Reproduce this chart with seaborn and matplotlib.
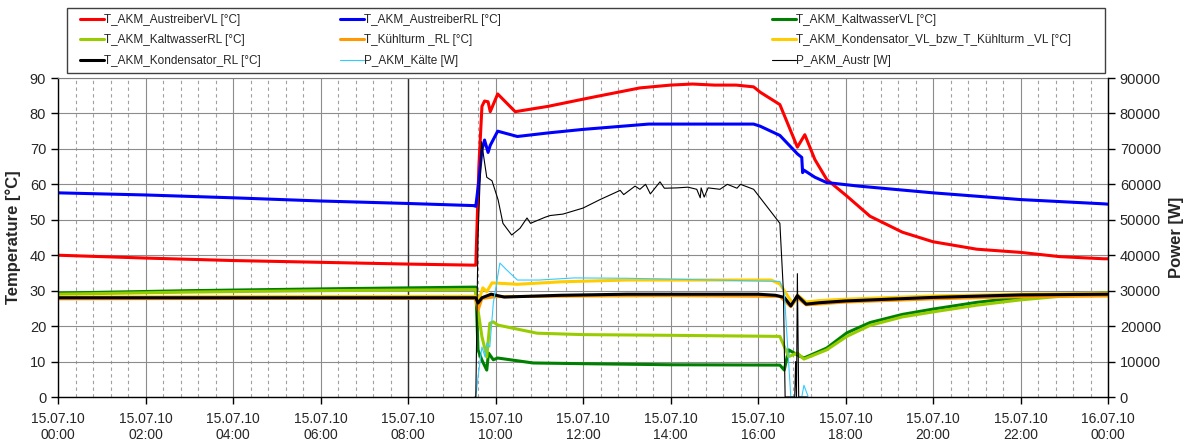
import numpy as np
import pandas as pd
import matplotlib
matplotlib.use("Agg")
import matplotlib.pyplot as plt
import seaborn as sns
from matplotlib.lines import Line2D
from matplotlib.patches import Rectangle
from matplotlib.ticker import MultipleLocator, FuncFormatter

# --- data (hours since 15.07.10 00:00) ---
t_vl = [0, 2, 4, 6, 8, 9.5, 9.55, 9.62, 9.69, 9.75, 9.83, 9.88, 10.05, 10.45, 11.2, 12.15,
        13.3, 14, 14.5, 15, 15.5, 15.9, 16.05, 16.5, 16.9, 17.07, 17.3, 17.57, 18.03, 18.56,
        19.3, 20, 21, 22, 22.9, 23.9, 24]
v_vl = [40, 39.2, 38.5, 38, 37.5, 37.2, 37.2, 65, 82, 83.5, 83.3, 80.5, 85.5, 80.5, 82, 84.4,
        87.2, 88, 88.3, 88, 88, 87.5, 86, 82.5, 70.5, 74, 67, 61.4, 56.7, 51, 46.5, 43.8,
        41.7, 40.8, 39.6, 39, 39]

t_rl = [0, 2, 4, 6, 8, 9.5, 9.55, 9.62, 9.69, 9.75, 9.83, 9.88, 10.05, 10.5, 11.2, 12, 13,
        13.5, 15, 15.9, 16.05, 16.5, 16.9, 17.0, 17.02, 17.05, 17.3, 17.57, 18.3, 20, 22,
        23.9, 24]
v_rl = [57.6, 57, 56.2, 55.3, 54.6, 54, 53.8, 61, 69.7, 72.5, 69, 71, 75, 73.5, 74.5, 75.5,
        76.5, 77, 77, 77, 76.4, 73.8, 68.6, 67.6, 63.3, 64, 62, 60.5, 59.5, 57.6, 55.7, 54.5,
        54.4]

t_kw_vl = [0, 3, 6, 9.5, 9.55, 9.6, 9.69, 9.8, 9.84, 9.95, 10.05, 10.86, 12, 14, 16.5, 16.6,
           16.7, 16.96, 17.05, 17.57, 18.03, 18.56, 19.3, 20, 21, 22, 22.9, 23.9, 24]
v_kw_vl = [29.3, 30, 30.5, 31, 31, 13.3, 10.4, 7.6, 12.4, 10.5, 11, 9.6, 9.4, 9.1, 9, 7.6,
           13.3, 11.5, 11, 13.8, 18.1, 21, 23.3, 24.8, 26.7, 28.1, 28.8, 29.3, 29.3]

t_kw_rl = [0, 3, 6, 9.5, 9.55, 9.6, 9.69, 9.75, 9.8, 9.87, 9.95, 10.05, 10.95, 12, 14, 16.5,
           16.7, 16.9, 17.05, 17.57, 18.03, 18.56, 19.3, 20, 21, 22, 22.9, 23.9, 24]
v_kw_rl = [29, 29.6, 30, 30.3, 30.3, 24.5, 17, 14, 11.3, 20.8, 21.2, 20.3, 18, 17.6, 17.4, 17.1,
           11.4, 12.4, 10.7, 13.3, 17.1, 20.2, 22.6, 24, 25.9, 27.4, 28.4, 29.1, 29.1]

t_kt_rl = [0, 4, 9.5, 9.55, 9.6, 9.69, 10, 12, 14, 16.5, 16.75, 16.9, 17.1, 18, 20, 22, 24]
v_kt_rl = [27.7, 27.8, 27.8, 27.5, 24.5, 27.8, 28.3, 28.5, 28.6, 28.4, 25.5, 28, 26, 26.8,
           27.7, 28.3, 28.5]

t_ko_vl = [0, 4, 9.5, 9.55, 9.6, 9.71, 9.8, 9.92, 10.5, 11.5, 13, 16.3, 16.5, 16.7, 16.8,
           16.9, 17.1, 17.4, 18, 20, 22, 24]
v_ko_vl = [28.2, 28.3, 28.4, 28.4, 26.5, 30.8, 29.7, 32.2, 31.8, 32.5, 33, 33, 31.9, 28.1,
           26.3, 28.8, 26.8, 27.2, 27.6, 28.5, 29, 29.3]

t_ko_rl = [0, 4, 9.5, 9.55, 9.6, 9.69, 9.9, 10.2, 11.5, 13, 16, 16.4, 16.6, 16.75, 16.9, 17.1,
           17.4, 18, 20, 22, 24]
v_ko_rl = [28, 28, 28, 28, 26.5, 28, 29, 28.2, 28.7, 29, 29, 28.7, 28.1, 25.7, 28.6, 26.2,
           26.6, 27.1, 28.1, 28.8, 29]

t_p_kaelte = [9.55, 9.6, 9.69, 9.76, 9.8, 9.87, 9.95, 10.1, 10.26, 10.5, 11, 11.8, 13, 15,
              16.5, 16.6, 16.75, 16.85, 17.0, 17.05, 17.15]
v_p_kaelte = [0, 5600, 14100, 11300, 15200, 14100, 26500, 37800, 35800, 33000, 33000, 33600,
              33500, 33000, 32600, 29500, 0, 0, 0, 3300, 0]

t_p_austr = [9.53, 9.55, 9.6, 9.68, 9.8, 9.92, 10.06, 10.17, 10.37, 10.56, 10.72, 10.8,
             11.13, 11.25, 11.54, 12.0, 12.39, 12.85, 12.93, 13.19, 13.3, 13.43, 13.54,
             13.76, 13.86, 14.15, 14.4, 14.6, 14.68, 14.7, 14.77, 14.86, 15.13, 15.3, 15.52,
             15.6, 15.9, 16.2, 16.5, 16.58, 16.62, 16.84, 16.86, 16.88, 16.9, 16.93, 16.96,
             17.13]
v_p_austr = [0, 0, 45000, 72000, 62000, 61000, 55600, 49000, 45700, 47600, 50500, 49000,
             50700, 51200, 51600, 53300, 55700, 58300, 57100, 59500, 58600, 60000, 57300,
             60700, 58900, 59000, 59200, 58600, 56200, 59000, 56400, 59000, 58600, 60000,
             58900, 60000, 58600, 53800, 49000, 30000, 0, 0, 10000, 0, 34800, 0, 0, 0]

temp_series = [
    ("T_AKM_AustreiberVL [°C]", t_vl, v_vl, "#FF0000"),
    ("T_AKM_AustreiberRL [°C]", t_rl, v_rl, "#0000FF"),
    ("T_AKM_KaltwasserVL [°C]", t_kw_vl, v_kw_vl, "#008000"),
    ("T_AKM_KaltwasserRL [°C]", t_kw_rl, v_kw_rl, "#99CC00"),
    ("T_Kühlturm _RL [°C]", t_kt_rl, v_kt_rl, "#FF9900"),
    ("T_AKM_Kondensator_VL_bzw_T_Kühlturm _VL [°C]", t_ko_vl, v_ko_vl, "#FFCC00"),
    ("T_AKM_Kondensator_RL [°C]", t_ko_rl, v_ko_rl, "#000000"),
]
power_series = [
    ("P_AKM_Kälte [W]", t_p_kaelte, v_p_kaelte, "#33CCFF"),
    ("P_AKM_Austr [W]", t_p_austr, v_p_austr, "#000000"),
]

sns.set_style("white")
plt.rcParams["font.family"] = ["Liberation Sans", "DejaVu Sans"]

fig = plt.figure(figsize=(11.9, 4.48), dpi=100)
ax = fig.add_axes([58 / 1190, 1 - 397 / 448, 1050 / 1190, 319 / 448])
ax2 = ax.twinx()

for name, t, v, c in temp_series:
    df = pd.DataFrame({"t": t, "v": v})
    sns.lineplot(data=df, x="t", y="v", ax=ax, color=c, linewidth=2.2,
                 estimator=None, sort=False, legend=False)
for name, t, v, c in power_series:
    df = pd.DataFrame({"t": t, "v": v})
    sns.lineplot(data=df, x="t", y="v", ax=ax2, color=c, linewidth=0.8,
                 estimator=None, sort=False, legend=False)

ax.set_xlim(0, 24)
ax.set_ylim(0, 90)
ax2.set_ylim(0, 90000)
ax.yaxis.set_major_locator(MultipleLocator(10))
ax2.yaxis.set_major_locator(MultipleLocator(10000))
ax.xaxis.set_major_locator(MultipleLocator(2))
ax.xaxis.set_minor_locator(MultipleLocator(0.4))


def fmt_time(x, pos):
    h = int(round(x))
    day = "15.07.10" if h < 24 else "16.07.10"
    return f"{day}\n{h % 24:02d}:00"


ax.xaxis.set_major_formatter(FuncFormatter(fmt_time))

ax.grid(True, which="major", axis="both", color="#8c8c8c", linewidth=0.8, linestyle="-")
ax.grid(True, which="minor", axis="x", color="#a0a0a0", linewidth=0.8, linestyle=(0, (3, 3)))
ax.set_axisbelow(True)
ax.axvline(8, color="#303030", linewidth=1.0, zorder=1)

ax.set_xlabel("")
ax.set_ylabel("Temperature [°C]", fontsize=12, fontweight="bold", labelpad=6)
ax2.set_ylabel("Power [W]", fontsize=12, fontweight="bold", labelpad=6)

ax.tick_params(axis="both", which="major", direction="out", length=5, width=1, color="black",
               labelsize=10.5, left=True, bottom=True)
ax.tick_params(axis="x", labelsize=10, pad=6)
ax.tick_params(which="minor", length=0)
ax2.tick_params(axis="y", direction="out", length=5, width=1, color="black", labelsize=10.5, right=True)

for s in ["top", "right"]:
    ax.spines[s].set_color("#808080")
for s in ["left", "bottom"]:
    ax.spines[s].set_color("black")
    ax.spines[s].set_linewidth(1)
ax2.spines["right"].set_color("black")
ax2.spines["right"].set_linewidth(1)
for s in ["top", "left", "bottom"]:
    ax2.spines[s].set_visible(False)

# legend: three columns inside one box
all_series = temp_series + power_series
lw_of = {n: (2.2 if n.startswith("T_") else 0.8) for n, _, _, _ in all_series}
col_of = {n: c for n, _, _, c in all_series}
columns = [
    ["T_AKM_AustreiberVL [°C]", "T_AKM_KaltwasserRL [°C]", "T_AKM_Kondensator_RL [°C]"],
    ["T_AKM_AustreiberRL [°C]", "T_Kühlturm _RL [°C]", "P_AKM_Kälte [W]"],
    ["T_AKM_KaltwasserVL [°C]", "T_AKM_Kondensator_VL_bzw_T_Kühlturm _VL [°C]", "P_AKM_Austr [W]"],
]
col_x = [80, 340, 772]
for names, x0 in zip(columns, col_x):
    handles = [Line2D([], [], color=col_of[n], linewidth=lw_of[n]) for n in names]
    fig.legend(handles, names, loc="upper left", bbox_to_anchor=(x0 / 1190, 1 - 14 / 448),
               frameon=False, fontsize=8.5, handlelength=2.0, handletextpad=0.0,
               labelspacing=0.72, borderpad=0, borderaxespad=0)
fig.patches.append(Rectangle((67 / 1190, 1 - 73 / 448), (1105 - 67) / 1190, 65 / 448,
                             transform=fig.transFigure, fill=False, edgecolor="#404040",
                             linewidth=1))

fig.savefig("out.png", dpi=100)
